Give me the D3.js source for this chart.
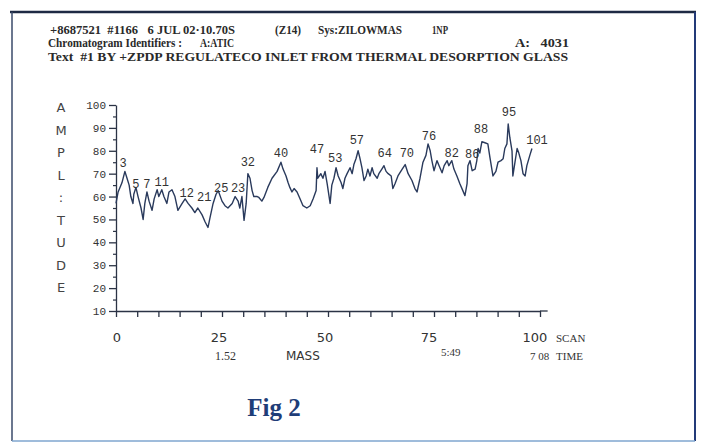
<!DOCTYPE html>
<html>
<head>
<meta charset="utf-8">
<script src="https://cdn.jsdelivr.net/npm/d3@7"></script>
<style>
  body { margin: 0; background: #fff; }
  svg { display: block; }
</style>
</head>
<body>
<svg id="chart" width="701" height="446"></svg>
<script>
// scan number / amplitude pairs
const scans = [0, 0.5, 1.4, 2.1, 2.6, 3.1, 3.5, 4.0, 4.2, 4.7, 5.2, 5.9, 6.4, 6.8, 7.3, 7.8, 8.5, 9.0, 9.7, 10.1,
  10.8, 11.3, 12.0, 12.5, 13.2, 13.9, 14.6, 15.6, 16.3, 17.0, 17.9, 18.6, 19.3, 20.3, 21.0, 21.7, 22.2, 22.9, 23.6, 24.1,
  25.0, 25.7, 26.4, 27.4, 28.1, 28.8, 29.2, 29.7, 30.2, 30.7, 31.1, 31.6, 32.1, 32.5, 33.3, 33.7, 34.4, 34.9, 35.8, 36.8,
  38.0, 38.9, 39.4, 40.1, 40.6, 41.0, 41.5, 42.0, 42.7, 43.4, 44.1, 45.0, 45.8, 46.5, 47.2, 47.4, 47.6, 48.3, 48.8, 49.3,
  49.8, 50.5, 50.9, 51.4, 51.9, 52.4, 53.1, 53.5, 54.0, 54.5, 55.2, 55.7, 56.1, 56.6, 57.1, 57.5, 58.0, 58.5, 59.0, 59.4,
  59.9, 60.4, 60.8, 61.6, 62.0, 62.7, 63.2, 63.7, 64.2, 64.9, 65.3, 65.8, 66.5, 67.5, 68.2, 68.9, 69.8, 70.5, 71.0, 71.7,
  72.4, 73.1, 73.6, 74.1, 74.5, 75.0, 75.7, 76.2, 76.9, 77.4, 78.1, 78.5, 79.2, 79.7, 80.4, 81.1, 81.8, 82.3, 82.8, 83.0,
  83.5, 84.0, 84.7, 85.1, 85.4, 85.8, 86.3, 87.0, 87.7, 88.2, 88.7, 88.9, 89.6, 90.1, 90.8, 91.3, 91.7, 92.2, 92.5, 92.9,
  93.4, 93.6, 94.1, 94.6, 95.0, 95.5, 96.0, 96.5, 96.9, 97.6, 98.1];
const amps = [57, 62, 66, 71, 68, 65, 60, 57, 61, 64, 60, 55, 50, 57, 62, 58, 54, 59, 63, 60,
  63, 60, 57, 62, 63, 60, 54, 57, 59, 57, 55, 53, 55, 52, 49, 46.5, 51, 57, 61, 62.6,
  58, 56, 55, 57, 60, 58, 55, 60, 49.6, 57, 70, 68, 62.6, 60, 60, 59.6, 58, 59.6, 64, 68,
  71, 75, 72, 69, 66, 64, 62, 63.5, 62, 59, 56, 55, 56, 59, 62.6, 72.6, 68, 70, 68, 71,
  65.6, 57, 65, 68, 72.6, 69, 66, 63.5, 68, 70, 72.6, 70, 74, 76.5, 80, 77, 72.6, 67, 69, 72,
  69, 72.6, 70, 68, 70, 72, 73.5, 71, 70, 69, 63.5, 65.6, 69, 72, 74, 70, 67, 63.5, 62, 68,
  75, 78, 83, 80, 75.7, 71.3, 75.7, 73.5, 70.4, 73.5, 75.7, 73.5, 75.7, 72, 69, 65.6, 62.6, 60.4, 65.6, 73.5,
  75.7, 71.3, 72, 75.7, 81, 79, 84, 83.5, 83, 77, 71.3, 69, 71, 75, 75.7, 76.5, 81, 83, 91.7, 85.6,
  80, 69, 75, 81, 79, 75.7, 70, 69, 73.5, 78, 81];

// peak annotations: text, scan and amplitude of the label centre
const peakText = ["3", "5", "7", "11", "12", "21", "25", "23", "32", "40", "47", "53", "57", "64", "70", "76", "82", "86", "88", "95", "101"];
const peakScan = [1.7, 4.7, 7.3, 10.8, 16.7, 20.8, 24.8, 28.8, 31.1, 38.9, 47.4, 51.7, 56.8, 63.4, 68.6, 73.8, 79.2, 84.0, 86.1, 92.7, 99.3];
const peakAmp = [74.8, 65.7, 65.7, 66.5, 61.7, 59.6, 63.9, 63.9, 75.2, 79.1, 80.9, 77, 84.8, 79.1, 79.1, 86.5, 79.1, 78.7, 89.6, 97, 84.8];

const yTicks = [10, 20, 30, 40, 50, 60, 70, 80, 90, 100];
const xTicks = [0, 25, 50, 75, 100];

// header pieces: text, left x, baseline y, stretched width
const headerText = ["+8687521  #1166   6 JUL 02·10.70S", "(Z14)", "Sys:ZILOWMAS", "1NP",
  "Chromatogram Identifiers :", "A:ATIC", "A:   4031",
  "Text  #1 BY +ZPDP REGULATECO INLET FROM THERMAL DESORPTION GLASS"];
const headerX = [50, 275, 318, 432, 48, 200, 515, 48];
const headerY = [34, 34, 34, 34, 47, 47, 47, 61];
const headerW = [185, 26, 84, 16, 134, 34, 54, 520];

const svg = d3.select("#chart");
const ink = "#2b3345";

// frame
svg.append("line").attr("x1", 10).attr("x2", 696).attr("y1", 12).attr("y2", 12)
  .attr("stroke", "#1e2a44").attr("stroke-width", 2.5);
svg.append("line").attr("x1", 12).attr("x2", 12).attr("y1", 12).attr("y2", 441)
  .attr("stroke", "#3a4a6a").attr("stroke-width", 1.5);
svg.append("line").attr("x1", 695).attr("x2", 695).attr("y1", 12).attr("y2", 441)
  .attr("stroke", "#233a78").attr("stroke-width", 2);
svg.append("line").attr("x1", 12).attr("x2", 695).attr("y1", 441).attr("y2", 441)
  .attr("stroke", "#7fa6cf").attr("stroke-width", 1.5);

// header
svg.append("g").selectAll("text")
  .data(headerText)
  .join("text")
  .attr("x", (d, i) => headerX[i])
  .attr("y", (d, i) => headerY[i])
  .attr("textLength", (d, i) => headerW[i])
  .attr("lengthAdjust", "spacingAndGlyphs")
  .attr("font-family", "Liberation Serif")
  .attr("font-weight", "bold")
  .attr("font-size", 12)
  .attr("fill", "#2a2a2a")
  .style("white-space", "pre")
  .text((d) => d);

let xScale = d3.scaleLinear().domain([0, 100]).range([116, 540]);
let yScale = d3.scaleLinear().domain([10, 100]).range([311, 105]);

// axes
let xAxis = d3.axisBottom(xScale).tickValues(d3.range(0, 101, 5)).tickSize(6).tickSizeOuter(0).tickFormat("");
svg.append("g").attr("transform", "translate(0,311)").call(xAxis)
  .call((g) => g.selectAll("line,path").attr("stroke", ink).attr("stroke-width", 1.3));
svg.append("line").attr("x1", xScale(100)).attr("x2", xScale(101.8)).attr("y1", 311).attr("y2", 311)
  .attr("stroke", ink).attr("stroke-width", 1.3);

let yAxis = d3.axisLeft(yScale).tickValues(yTicks).tickSize(7).tickSizeOuter(0).tickFormat("");
svg.append("g").attr("transform", "translate(116,0)").call(yAxis)
  .call((g) => g.selectAll("line,path").attr("stroke", ink).attr("stroke-width", 1.3));
let yMinor = d3.axisLeft(yScale).tickValues(d3.range(15, 100, 10)).tickSize(3).tickFormat("");
svg.append("g").attr("transform", "translate(116,0)").call(yMinor)
  .call((g) => g.select(".domain").remove())
  .call((g) => g.selectAll("line").attr("stroke", ink).attr("stroke-width", 1.2));

svg.append("g").selectAll("text")
  .data(yTicks)
  .join("text")
  .attr("x", 106)
  .attr("y", (d) => yScale(d) + 4)
  .attr("text-anchor", "end")
  .attr("font-family", "Liberation Mono")
  .attr("font-size", 11)
  .attr("fill", "#333")
  .text((d) => d);

svg.append("g").selectAll("text")
  .data(xTicks)
  .join("text")
  .attr("x", (d) => xScale(d) - (d > 50 ? 5 : d > 0 ? 3 : -1))
  .attr("y", 342)
  .attr("text-anchor", "middle")
  .attr("font-family", "DejaVu Sans")
  .attr("font-size", 13)
  .attr("fill", "#333")
  .text((d) => d);

const small = (x, y, t, size) =>
  svg.append("text").attr("x", x).attr("y", y)
    .attr("font-family", "Liberation Serif").attr("font-size", size || 11)
    .attr("fill", "#333").style("white-space", "pre").text(t);
small(556, 342, "SCAN", 11);
small(556, 360, "TIME", 11);
small(530, 360, "7 08", 11);
small(441, 356, "5:49", 11);
small(215, 360, "1.52", 12);
svg.append("text").attr("x", 286).attr("y", 360)
  .attr("font-family", "DejaVu Sans").attr("font-size", 12).attr("fill", "#333").text("MASS");

// y axis title, stacked letters
const yTitle = "AMPL:TUDE".split("");
svg.append("g").selectAll("text")
  .data(yTitle)
  .join("text")
  .attr("x", 61)
  .attr("y", (d, i) => 112 + i * 22.5)
  .attr("text-anchor", "middle")
  .attr("font-family", "DejaVu Sans")
  .attr("font-size", 13)
  .attr("fill", "#444")
  .text((d) => d);

// trace
let line = d3.line()
  .x((d, i) => xScale(scans[i]))
  .y((d) => yScale(d));
svg.append("path")
  .datum(amps)
  .attr("d", line)
  .attr("fill", "none")
  .attr("stroke", "#2a3a5c")
  .attr("stroke-width", 1.4)
  .attr("stroke-linejoin", "round");

// peak labels
svg.append("g").selectAll("text")
  .data(peakText)
  .join("text")
  .attr("x", (d, i) => xScale(peakScan[i]))
  .attr("y", (d, i) => yScale(peakAmp[i]) + 4)
  .attr("text-anchor", "middle")
  .attr("font-family", "Liberation Mono")
  .attr("font-size", 12)
  .attr("fill", "#333")
  .text((d) => d);

// caption
svg.append("text").attr("x", 274).attr("y", 416)
  .attr("text-anchor", "middle")
  .attr("font-family", "Liberation Serif")
  .attr("font-weight", "bold")
  .attr("font-size", 25)
  .attr("fill", "#1f3d78")
  .text("Fig 2");
</script>
</body>
</html>
